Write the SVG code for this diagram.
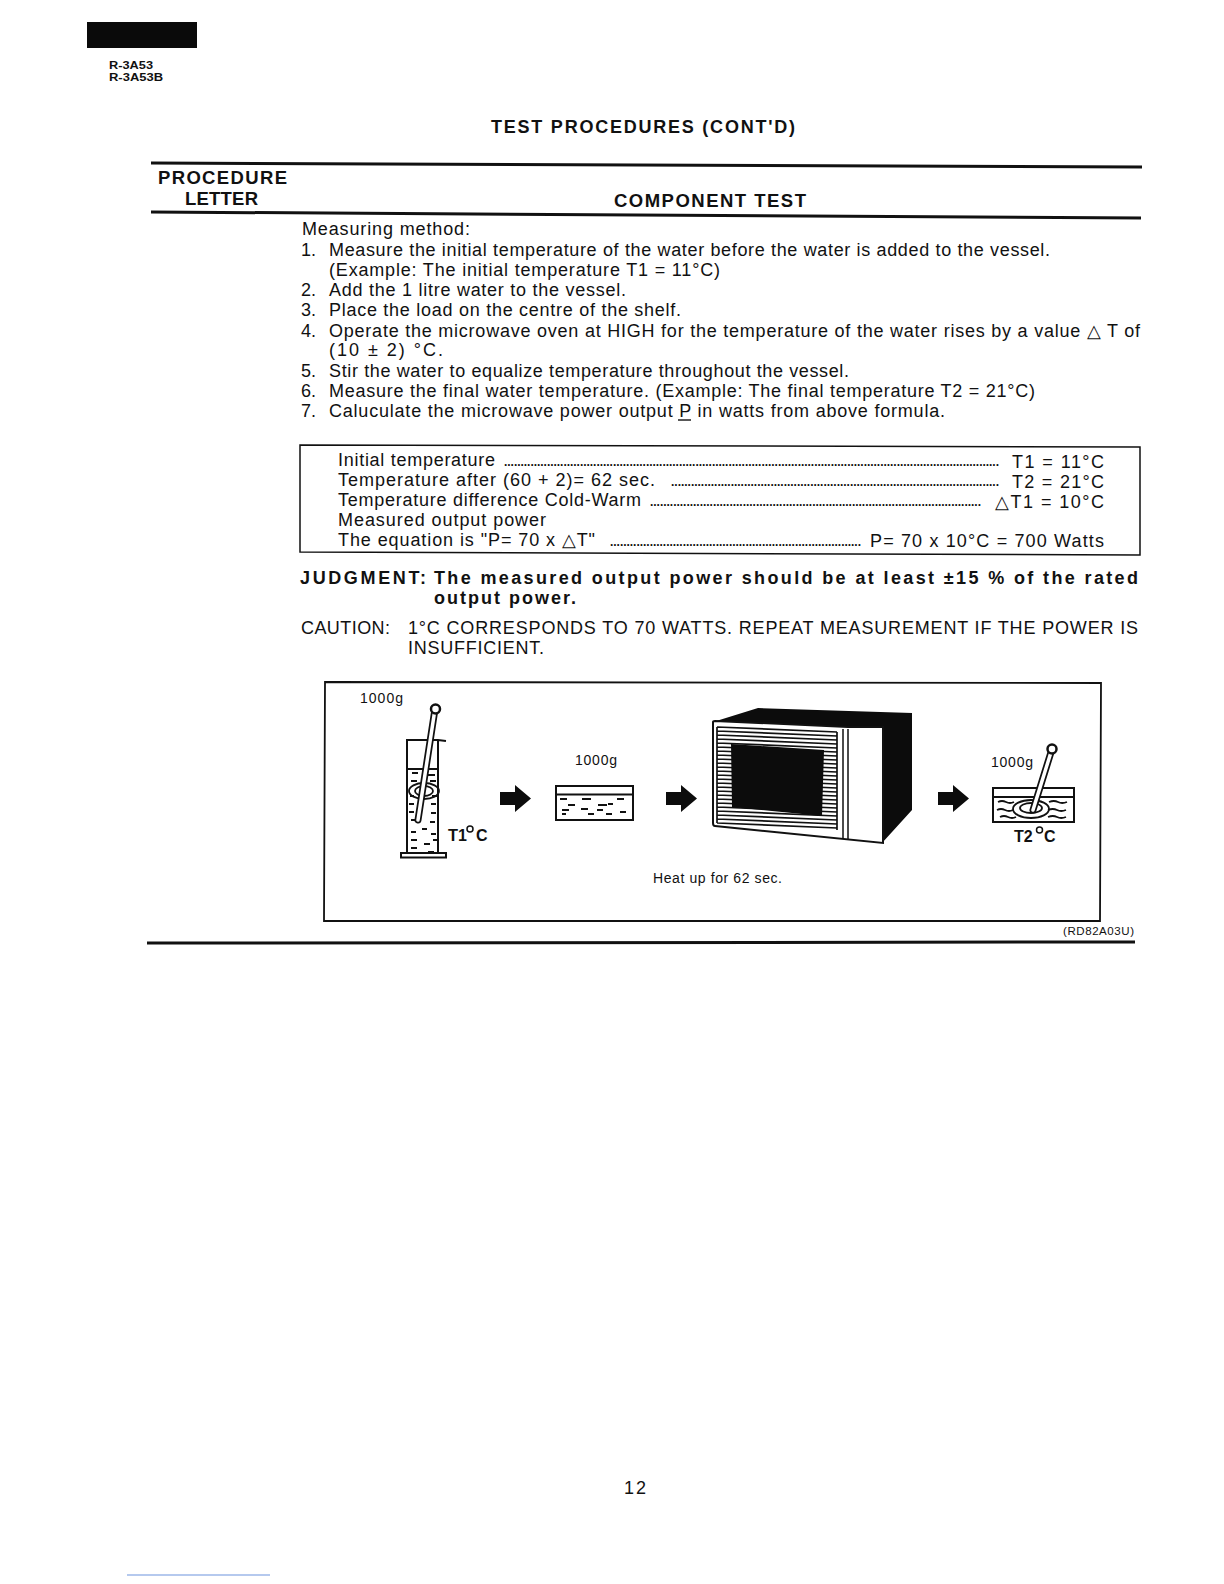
<svg xmlns="http://www.w3.org/2000/svg" width="1224" height="1584" viewBox="0 0 1224 1584">
<style>
text{font-family:"Liberation Sans",Arial,sans-serif;fill:#111}
.b{font-size:18px}
.t{font-size:18px}
.h{font-size:18.500px;font-weight:bold}
.j{font-size:18px;font-weight:bold}
.d{font-size:12px;font-weight:bold}
.s{font-size:14px}
.r{stroke:#111;fill:none}
.k{fill:#0c0c0c;stroke:none}
.w{fill:none;stroke:#111;stroke-width:1.800}
</style>
<defs>
<g id="arrow"><path class="k" d="M0 7H15V0L31 13.500L15 27V20H0Z"/></g>
</defs>
<rect width="1224" height="1584" fill="#fff"/>
<g id="header">
<rect x="87" y="22" width="110" height="26" fill="#0a0a0a"/>
<text x="109" y="69" font-size="10.500" font-weight="bold" textLength="44" lengthAdjust="spacingAndGlyphs">R-3A53</text>
<text x="109" y="81" font-size="10.500" font-weight="bold" textLength="54" lengthAdjust="spacingAndGlyphs">R-3A53B</text>
<text class="j" x="491" y="133" textLength="304" lengthAdjust="spacing">TEST PROCEDURES (CONT'D)</text>
</g>
<g id="table-head">
<path class="r" stroke-width="3" d="M151 163L1142 167"/>
<path class="r" stroke-width="3" d="M151 212L1141 218"/>
<text class="h" x="158" y="184" textLength="129" lengthAdjust="spacing">PROCEDURE</text>
<text class="h" x="185" y="205" textLength="73" lengthAdjust="spacing">LETTER</text>
<text class="h" x="614" y="207" textLength="192" lengthAdjust="spacing">COMPONENT TEST</text>
</g>
<g id="method">
<text class="b" x="302" y="235" textLength="168" lengthAdjust="spacing">Measuring method:</text>
<text class="b" x="301" y="256">1.</text><text class="b" x="329" y="256" textLength="721" lengthAdjust="spacing">Measure the initial temperature of the water before the water is added to the vessel.</text>
<text class="b" x="329" y="276" textLength="391" lengthAdjust="spacing">(Example: The initial temperature T1 = 11°C)</text>
<text class="b" x="301" y="296">2.</text><text class="b" x="329" y="296" textLength="297" lengthAdjust="spacing">Add the 1 litre water to the vessel.</text>
<text class="b" x="301" y="316">3.</text><text class="b" x="329" y="316" textLength="352" lengthAdjust="spacing">Place the load on the centre of the shelf.</text>
<text class="b" x="301" y="337">4.</text><text class="b" x="329" y="337" textLength="811" lengthAdjust="spacing">Operate the microwave oven at HIGH for the temperature of the water rises by a value △ T of</text>
<text class="b" x="329" y="356" textLength="114" lengthAdjust="spacing">(10 ± 2) °C.</text>
<text class="b" x="301" y="377">5.</text><text class="b" x="329" y="377" textLength="520" lengthAdjust="spacing">Stir the water to equalize temperature throughout the vessel.</text>
<text class="b" x="301" y="397">6.</text><text class="b" x="329" y="397" textLength="706" lengthAdjust="spacing">Measure the final water temperature. (Example: The final temperature T2 = 21°C)</text>
<text class="b" x="301" y="417">7.</text><text class="b" x="329" y="417" textLength="616" lengthAdjust="spacing">Caluculate the microwave power output P in watts from above formula.</text>
<path class="r" stroke-width="1.400" d="M678 420H691"/>
</g>
<g id="results">
<path class="r" stroke-width="1.500" d="M300 445L1140 447V555L300 552Z"/>
<text class="t" x="338" y="466" textLength="157" lengthAdjust="spacing">Initial temperature</text>
<text class="d" x="504" y="466" textLength="495" lengthAdjust="spacing">......................................................................................................................................................</text>
<text class="t" x="1012" y="468" textLength="92" lengthAdjust="spacing">T1 = 11°C</text>
<text class="t" x="338" y="486" textLength="317" lengthAdjust="spacing">Temperature after (60 + 2)= 62 sec.</text>
<text class="d" x="671" y="486" textLength="328" lengthAdjust="spacing">...................................................................................................</text>
<text class="t" x="1012" y="488" textLength="92" lengthAdjust="spacing">T2 = 21°C</text>
<text class="t" x="338" y="506" textLength="303" lengthAdjust="spacing">Temperature difference Cold-Warm</text>
<text class="d" x="650" y="506" textLength="331" lengthAdjust="spacing">....................................................................................................</text>
<text class="t" x="995" y="508" textLength="109" lengthAdjust="spacing">△T1 = 10°C</text>
<text class="t" x="338" y="526" textLength="208" lengthAdjust="spacing">Measured output power</text>
<text class="t" x="338" y="546" textLength="257" lengthAdjust="spacing">The equation is "P= 70 x △T"</text>
<text class="d" x="610" y="546" textLength="251" lengthAdjust="spacing">............................................................................</text>
<text class="t" x="870" y="547" textLength="234" lengthAdjust="spacing">P= 70 x 10°C = 700 Watts</text>
</g>
<g id="notes">
<text class="j" x="300" y="584" textLength="126" lengthAdjust="spacing">JUDGMENT:</text>
<text class="j" x="434" y="584" textLength="704" lengthAdjust="spacing">The measured output power should be at least ±15 % of the rated</text>
<text class="j" x="434" y="604" textLength="142" lengthAdjust="spacing">output power.</text>
<text class="b" x="301" y="634" textLength="89" lengthAdjust="spacing">CAUTION:</text>
<text class="b" x="408" y="634" textLength="730" lengthAdjust="spacing">1°C CORRESPONDS TO 70 WATTS. REPEAT MEASUREMENT IF THE POWER IS</text>
<text class="b" x="408" y="654" textLength="136" lengthAdjust="spacing">INSUFFICIENT.</text>
</g>
<g id="figure-frame"><path class="r" stroke-width="1.800" d="M325 682L1101 683L1100 921H324Z"/></g>
<g id="beaker">
<text class="s" x="360" y="703" textLength="43" lengthAdjust="spacing">1000g</text>
<path class="r" stroke-width="2" d="M407 854V740H438L446 741M438 740V854M407 769H438"/>
<rect x="401" y="853" width="45" height="4.500" fill="#fff" stroke="#111" stroke-width="2"/>
<ellipse class="w" cx="424" cy="791" rx="15" ry="8" stroke-width="2"/><ellipse class="w" cx="424" cy="791" rx="9" ry="5"/>
<path class="w" d="M412 773h6M428 775h7M411 781h6M430 781h6M409 804h5M431 804h5M409 812h5M431 813h5M411 820h6M430 822h5M411 832h5M422 829h5M431 834h5M411 840h6M424 844h6M433 840h5M411 848h6M428 852h6M410 796h4M432 796h5"/>
<path d="M435 709L418 820" stroke="#111" stroke-width="7" stroke-linecap="round"/>
<path d="M435 709L418 820" stroke="#fff" stroke-width="3.500" stroke-linecap="round"/>
<circle cx="435.500" cy="709" r="4.500" fill="#fff" stroke="#111" stroke-width="2.500"/>
<text x="448" y="841" font-size="16" font-weight="bold" textLength="10" lengthAdjust="spacingAndGlyphs">T</text>
<text x="458" y="841" font-size="16" font-weight="bold">1</text>
<circle cx="470" cy="829" r="3" fill="none" stroke="#111" stroke-width="1.500"/>
<text x="476" y="841" font-size="16" font-weight="bold">C</text>
</g>
<g id="tray-1">
<text class="s" x="575" y="765" textLength="42" lengthAdjust="spacing">1000g</text>
<rect x="556" y="786" width="77" height="34" fill="#fff" stroke="#111" stroke-width="2"/>
<path class="r" stroke-width="1.800" d="M556 794.500H633"/>
<path class="w" d="M560 799h7M582 799h9M617 799h7M568 805h7M598 805h9M608 804h5M562 810h7M581 809h7M597 810h6M562 814h4M588 814h6M606 814h6M620 812h6"/>
</g>
<g id="oven">
<path class="k" d="M713 722L758 708L912 713V810L882 843V729Z"/>
<path d="M713 722Q713 721 715 721L848 727H883V843L715 826Q713 826 713 823Z" fill="#fff" stroke="#111" stroke-width="2"/>
<path class="r" stroke-width="1.700" d="M717 727L837 732M717 731L837 736M717 735L837 740M717 739L837 744M717 743L837 748M717 747L837 752M717 751L837 756M717 755L837 760M717 759L837 764M717 763L837 768M717 767L837 772M717 771L837 776M717 775L837 780M717 779L837 784M717 783L837 788M717 787L837 792M717 791L837 796M717 795L837 800M717 799L837 804M717 803L837 808M717 807L837 812M717 811L837 816M717 815L837 820M717 819L837 824M717 823L837 828M717 727V823M837 732V830"/>
<path class="r" stroke-width="1.500" d="M843 729V838M848 729V839"/>
<path class="k" d="M731 744L824 750L822 816L732 807Z"/>
</g>
<g id="tray-2">
<text class="s" x="991" y="767" textLength="42" lengthAdjust="spacing">1000g</text>
<rect x="993" y="788" width="81" height="34" fill="#fff" stroke="#111" stroke-width="2"/>
<path class="r" stroke-width="1.800" d="M993 797H1074"/>
<path class="w" d="M998 802q4-2 8 0t8 0M997 810q4-2 8 0t8 0M1000 817q4-2 8 0t8 0M1049 802q5-2 9 0t9 0M1048 810q5-2 9 0t9 0M1048 817q5-2 9 0t9 0"/>
<ellipse class="w" cx="1031" cy="809" rx="18" ry="9" stroke-width="2"/><ellipse class="w" cx="1031" cy="808" rx="11" ry="5"/>
<path d="M1052 749L1033 810" stroke="#111" stroke-width="7" stroke-linecap="round"/>
<path d="M1052 749L1033 810" stroke="#fff" stroke-width="3.500" stroke-linecap="round"/>
<circle cx="1052" cy="749" r="4.500" fill="#fff" stroke="#111" stroke-width="2.500"/>
<text x="1014" y="842" font-size="16" font-weight="bold">T2</text>
<circle cx="1039.500" cy="830" r="3" fill="none" stroke="#111" stroke-width="1.500"/>
<text x="1044" y="842" font-size="16" font-weight="bold">C</text>
</g>
<g id="connectors">
<use href="#arrow" x="500" y="785"/>
<use href="#arrow" x="666" y="785"/>
<use href="#arrow" x="938" y="785"/>
</g>
<g id="footer">
<text class="s" x="653" y="883" textLength="129" lengthAdjust="spacing">Heat up for 62 sec.</text>
<text x="1063" y="935" font-size="11.500" textLength="71" lengthAdjust="spacing">(RD82A03U)</text>
<path class="r" stroke-width="3" d="M147 943L1135 942"/>
<text x="624" y="1494" font-size="18" textLength="22" lengthAdjust="spacing">12</text>
<path stroke="#9db7e8" stroke-width="1.500" d="M127 1575H270"/>
</g>
</svg>
